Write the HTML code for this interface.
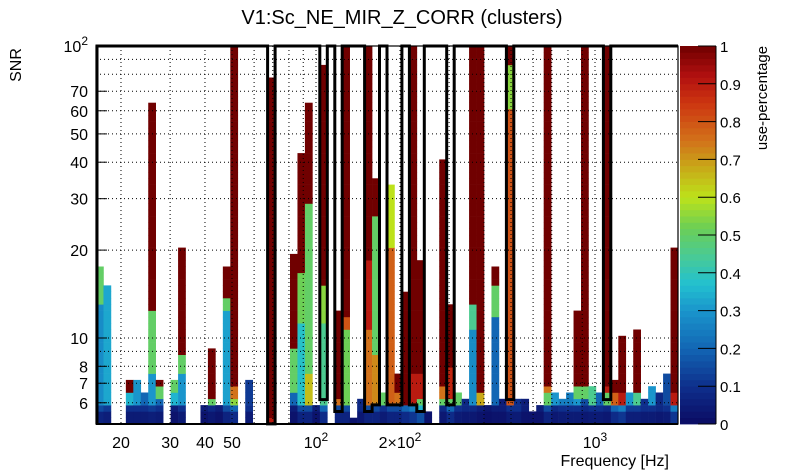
<!DOCTYPE html>
<html><head><meta charset="utf-8"><style>
html,body{margin:0;padding:0;background:#fff;}
svg{display:block;font-family:"Liberation Sans",sans-serif;}
</style></head><body>
<svg id="chart" width="805" height="472" viewBox="0 0 805 472" xmlns="http://www.w3.org/2000/svg">
<text x="402" y="24" font-size="20" text-anchor="middle">V1:Sc_NE_MIR_Z_CORR (clusters)</text>
<g id="cells"></g>
<g id="grid"></g>
<g id="outline"></g>
<g id="axes"></g>
<g id="cbar"></g>
<text transform="translate(21,65) rotate(-90)" font-size="16" text-anchor="middle">SNR</text>
<text x="669" y="466" font-size="16" text-anchor="end">Frequency [Hz]</text>
<text transform="translate(767,98) rotate(-90)" font-size="15" text-anchor="middle">use-percentage</text>
</svg>
<script>
// ---- data ----
const colIdx   = [0,1,4,5,6,7,8,10,11,14,15,16,17,18,20,23,26,27,28,29,30,32,33,34,35,36,37,38,39,40,41,42,43,44,46,47,48,49,50,51,52,53,54,55,56,57,58,59,60,61,62,63,64,65,66,67,68,69,70,71,72,73,74,75,76,77];
const colTop   = [17.5,15.1,7.0,7.2,6.5,63.8,7.2,7.2,20.3,5.9,9.2,5.9,17.5,100,7.2,77,19.4,42.7,63.8,5.9,85,12.4,100,5.2,6.1,100,35,6.5,33.5,7.5,14.4,100,18.3,5.6,40.7,13,6.5,6.1,100,100,5.9,17.5,6.1,100,6.1,6.1,5.6,5.9,100,6.5,6.1,6.5,12.4,100,6.8,6.5,100,7.2,10.2,6.5,10.6,6.1,6.8,6.5,7.5,20.3];
const colRed   = [999,999,6.6,999,999,12.4,6.8,999,8.8,999,6.1,999,13.7,6.8,999,5.3,9.1,16.7,28.7,999,15,6.1,11.8,999,999,18.5,25.9,999,999,6.5,6.0,7.5,7.5,999,6.8,8,999,999,13,6.4,999,15,999,85,999,999,999,999,6.8,999,999,999,6.8,6.8,999,999,6.8,6.5,6.5,999,6.5,999,999,999,999,6.5];
const colHiFrom= [13,999,999,999,999,7.5,6.2,6.4,7.6,999,5.9,999,12.4,6.2,999,999,6.5,11.5,7.5,999,11,5.9,10.5,999,999,10.6,8.8,999,20,6.1,999,6.1,6.3,999,6.3,6.2,999,999,10.5,6.1,999,11.6,999,62,999,999,999,999,6.4,999,999,999,6.3,6.3,999,999,6.4,6.1,6.1,999,6.1,999,999,999,999,6.1];
const colHi    = [0.5,0.33,0.35,0.3,0.2,0.5,0.5,0.5,0.5,0.05,0.5,0.05,0.5,0.75,0.12,0.9,0.5,0.52,0.5,0.05,0.55,0.75,0.8,0.05,0.08,0.9,0.5,0.5,0.6,0.75,1,0.9,0.9,0.05,0.75,0.88,0.5,0.08,0.45,0.68,0.03,0.5,0.05,0.55,0.1,0.05,0.05,0.05,0.75,0.3,0.25,0.25,0.5,0.5,0.45,0.2,0.9,0.78,0.9,0.3,0.45,0.1,0.3,0.08,0.15,0.9];
const colMid   = [0.28,0.33,0.35,0.3,0.2,0.3,0.2,0.35,0.3,0.05,0.5,0.05,0.32,0.55,0.12,0.9,0.2,0.38,0.65,0.05,0.45,0.75,0.52,0.05,0.08,0.75,0.72,0.5,0.78,0.75,1,0.9,0.5,0.05,0.5,0.5,0.5,0.08,0.28,0.68,0.03,0.2,0.05,0.8,0.1,0.05,0.05,0.05,0.5,0.3,0.25,0.25,0.3,0.15,0.45,0.2,0.5,0.78,0.9,0.3,0.45,0.1,0.3,0.08,0.15,0.9];
const colBase  = [0.15,0.12,0.1,0.1,0.1,0.12,0.1,0.05,0.1,0.05,0.08,0.05,0.15,0.2,0.1,0.9,0.05,0.15,0.15,0.05,0.2,0.15,0.15,0.05,0.08,0.15,0.15,0.1,0.15,0.15,0.2,0.25,0.35,0.05,0.08,0.2,0.1,0.08,0.08,0.05,0.03,0.05,0.05,0.1,0.1,0.05,0.05,0.05,0.15,0.08,0.1,0.1,0.1,0.08,0.1,0.1,0.08,0.2,0.25,0.12,0.12,0.1,0.1,0.08,0.1,0.25];
// selection outline dips: first column, last column, bottom SNR per column
const dipStart = [23,30,32,36,39,42,47,55,68];
const dipEnd   = [23,30,32,37,40,43,47,55,68];
const dipFloor = [[5.08],[6.15],[5.6],[5.6,5.9],[5.9,5.9],[5.9,5.6],[5.9],[6.15],[6.15]];
const yTickVals = [100,70,60,50,40,30,20,10,8,7,6];
const yTickLabels = ["10²","70","60","50","40","30","20","10","8","7","6"];
const xTickVals = [20,30,40,50,100,200,1000];
const xTickLabels = ["20","30","40","50","10²","2×10²","10³"];
const cbTicks = [0,0.1,0.2,0.3,0.4,0.5,0.6,0.7,0.8,0.9,1];

// ---- axes ----
const X0=96,X1=678,Y0=46,Y1=424;
const xOf=f=>316+279*(Math.log10(f)-2);
const yOf=s=>46+292*(2-Math.log10(s));
const fMin=Math.pow(10,(X0-316)/279+2), fMax=Math.pow(10,(X1-316)/279+2);
const NCOL=78, NROW=60, sMin=Math.pow(10,2-(Y1-46)/292), sMax=100;
const colEdge=i=>xOf(fMin*Math.pow(fMax/fMin,i/NCOL));
const rowEdge=j=>sMin*Math.pow(sMax/sMin,j/NROW);
const NS='http://www.w3.org/2000/svg';
function mk(tag,attrs,parent){const e=document.createElementNS(NS,tag);for(const k in attrs)e.setAttribute(k,attrs[k]);parent.appendChild(e);return e;}

const stops=[[0,[11,11,99]],[0.1,[14,47,140]],[0.2,[18,102,180]],[0.3,[26,149,204]],[0.37,[34,192,208]],[0.45,[76,203,144]],[0.52,[108,207,85]],[0.6,[189,226,26]],[0.68,[200,168,24]],[0.75,[210,114,26]],[0.85,[204,53,16]],[0.92,[178,16,16]],[1,[112,0,0]]];
function color(v){v=Math.max(0,Math.min(1,v));for(let k=1;k<stops.length;k++){if(v<=stops[k][0]){const a=stops[k-1],b=stops[k],t=(v-a[0])/(b[0]-a[0]);const c=a[1].map((x,m)=>Math.round(x+(b[1][m]-x)*t));return `rgb(${c[0]},${c[1]},${c[2]})`;}}return 'rgb(112,0,0)';}

// ---- cells ----
const cells=document.getElementById('cells');
colIdx.forEach((ci,n)=>{
  const xa=colEdge(ci),xb=colEdge(ci+1);
  for(let j=0;j<NROW;j++){
    const lo=rowEdge(j),hi=rowEdge(j+1),c=Math.sqrt(lo*hi);
    if(lo>=colTop[n]*0.99)break;
    let v;
    if(c>=colRed[n])v=1;else if(c>=colHiFrom[n])v=colHi[n];else if(c>=5.95)v=colMid[n];else if(c>=5.5)v=colBase[n];else v=colBase[n]>0.5?colBase[n]:colBase[n]*0.45;
    const r=mk('rect',{x:xa.toFixed(2),y:yOf(hi).toFixed(2),width:(xb-xa+0.3).toFixed(2),height:(yOf(lo)-yOf(hi)+0.3).toFixed(2),fill:color(v)},cells);
    
    
  }
});

// ---- grid ----
const grid=document.getElementById('grid');
const gx=[20,30,40,50,60,70,80,90,100,200,300,400,500,600,700,800,900,1000];
gx.forEach(f=>{const l=mk('line',{x1:xOf(f),x2:xOf(f),y1:Y0,y2:Y1,stroke:'#000','stroke-width':1,'stroke-dasharray':'1,3'},grid);
  });
const gy=[6,7,8,9,10,20,30,40,50,60,70,80,90];
gy.forEach(s=>{const l=mk('line',{x1:X0,x2:X1,y1:yOf(s),y2:yOf(s),stroke:'#000','stroke-width':1,'stroke-dasharray':'1,3'},grid);
  });

// ---- outline ----
let d=`M${X0+1},${Y1} V${Y0}`;
dipStart.forEach((s,k)=>{
  d+=` H${colEdge(s).toFixed(1)}`;
  for(let c=s;c<=dipEnd[k];c++){d+=` V${yOf(dipFloor[k][c-s]).toFixed(1)} H${colEdge(c+1).toFixed(1)}`;}
  d+=` V${Y0}`;
});
d+=` H${X1}`;
const ol=mk('path',{d:d,fill:'none',stroke:'#000','stroke-width':3,'stroke-linejoin':'miter'},document.getElementById('outline'));



// ---- axes ----
const axes=document.getElementById('axes');
const fr=mk('rect',{x:X0,y:Y0,width:X1-X0,height:Y1-Y0,fill:'none',stroke:'#000','stroke-width':1.2},axes);

mk('line',{x1:X0,x2:X1,y1:Y1,y2:Y1,stroke:'#000','stroke-width':2},axes);
yTickVals.forEach((s,k)=>{
  const y=yOf(s);
  const t=mk('line',{x1:X0,x2:X0+11,y1:y,y2:y,stroke:'#000','stroke-width':1},axes);
  
  const lab=yTickLabels[k];
  let tx;
  if(lab==='10²'){tx=mk('text',{x:88,y:y+6,'font-size':16,'text-anchor':'end'},axes);tx.innerHTML='10<tspan dy="-7" font-size="12">2</tspan>';}
  else{tx=mk('text',{x:88,y:y+6,'font-size':16,'text-anchor':'end'},axes);tx.textContent=lab;}
  
});
xTickVals.forEach((f,k)=>{
  const x=xOf(f);
  const lab=xTickLabels[k];
  const tx=mk('text',{x:x,y:448,'font-size':16,'text-anchor':'middle'},axes);
  if(lab.indexOf('²')>=0||lab.indexOf('³')>=0){
    const base=lab.slice(0,-1),sup=lab.slice(-1)==='²'?'2':'3';
    tx.innerHTML=base+'<tspan dy="-7" font-size="12">'+sup+'</tspan>';
  } else tx.textContent=lab;
  
});

// ---- colour bar ----
const cb=document.getElementById('cbar');
const CBX=680,CBW=36,NB=60;
for(let k=0;k<NB;k++){
  const v=(k+0.5)/NB, ya=Y1-(k+1)*(Y1-Y0)/NB;
  const r=mk('rect',{x:CBX,y:ya.toFixed(2),width:CBW,height:((Y1-Y0)/NB+0.4).toFixed(2),fill:color(v)},cb);
  
}
mk('line',{x1:CBX+CBW,x2:CBX+CBW,y1:Y0,y2:Y1,stroke:'#000','stroke-width':1},cb);
cbTicks.forEach(v=>{
  const y=Y1-v*(Y1-Y0);
  const t=mk('line',{x1:CBX+CBW-18,x2:CBX+CBW,y1:y,y2:y,stroke:'#000','stroke-width':1},cb);
  
  const tx=mk('text',{x:720,y:y+6,'font-size':15},cb);
  tx.textContent=(v===0||v===1)?String(v):v.toFixed(1);
  
});
</script>
</body></html>
